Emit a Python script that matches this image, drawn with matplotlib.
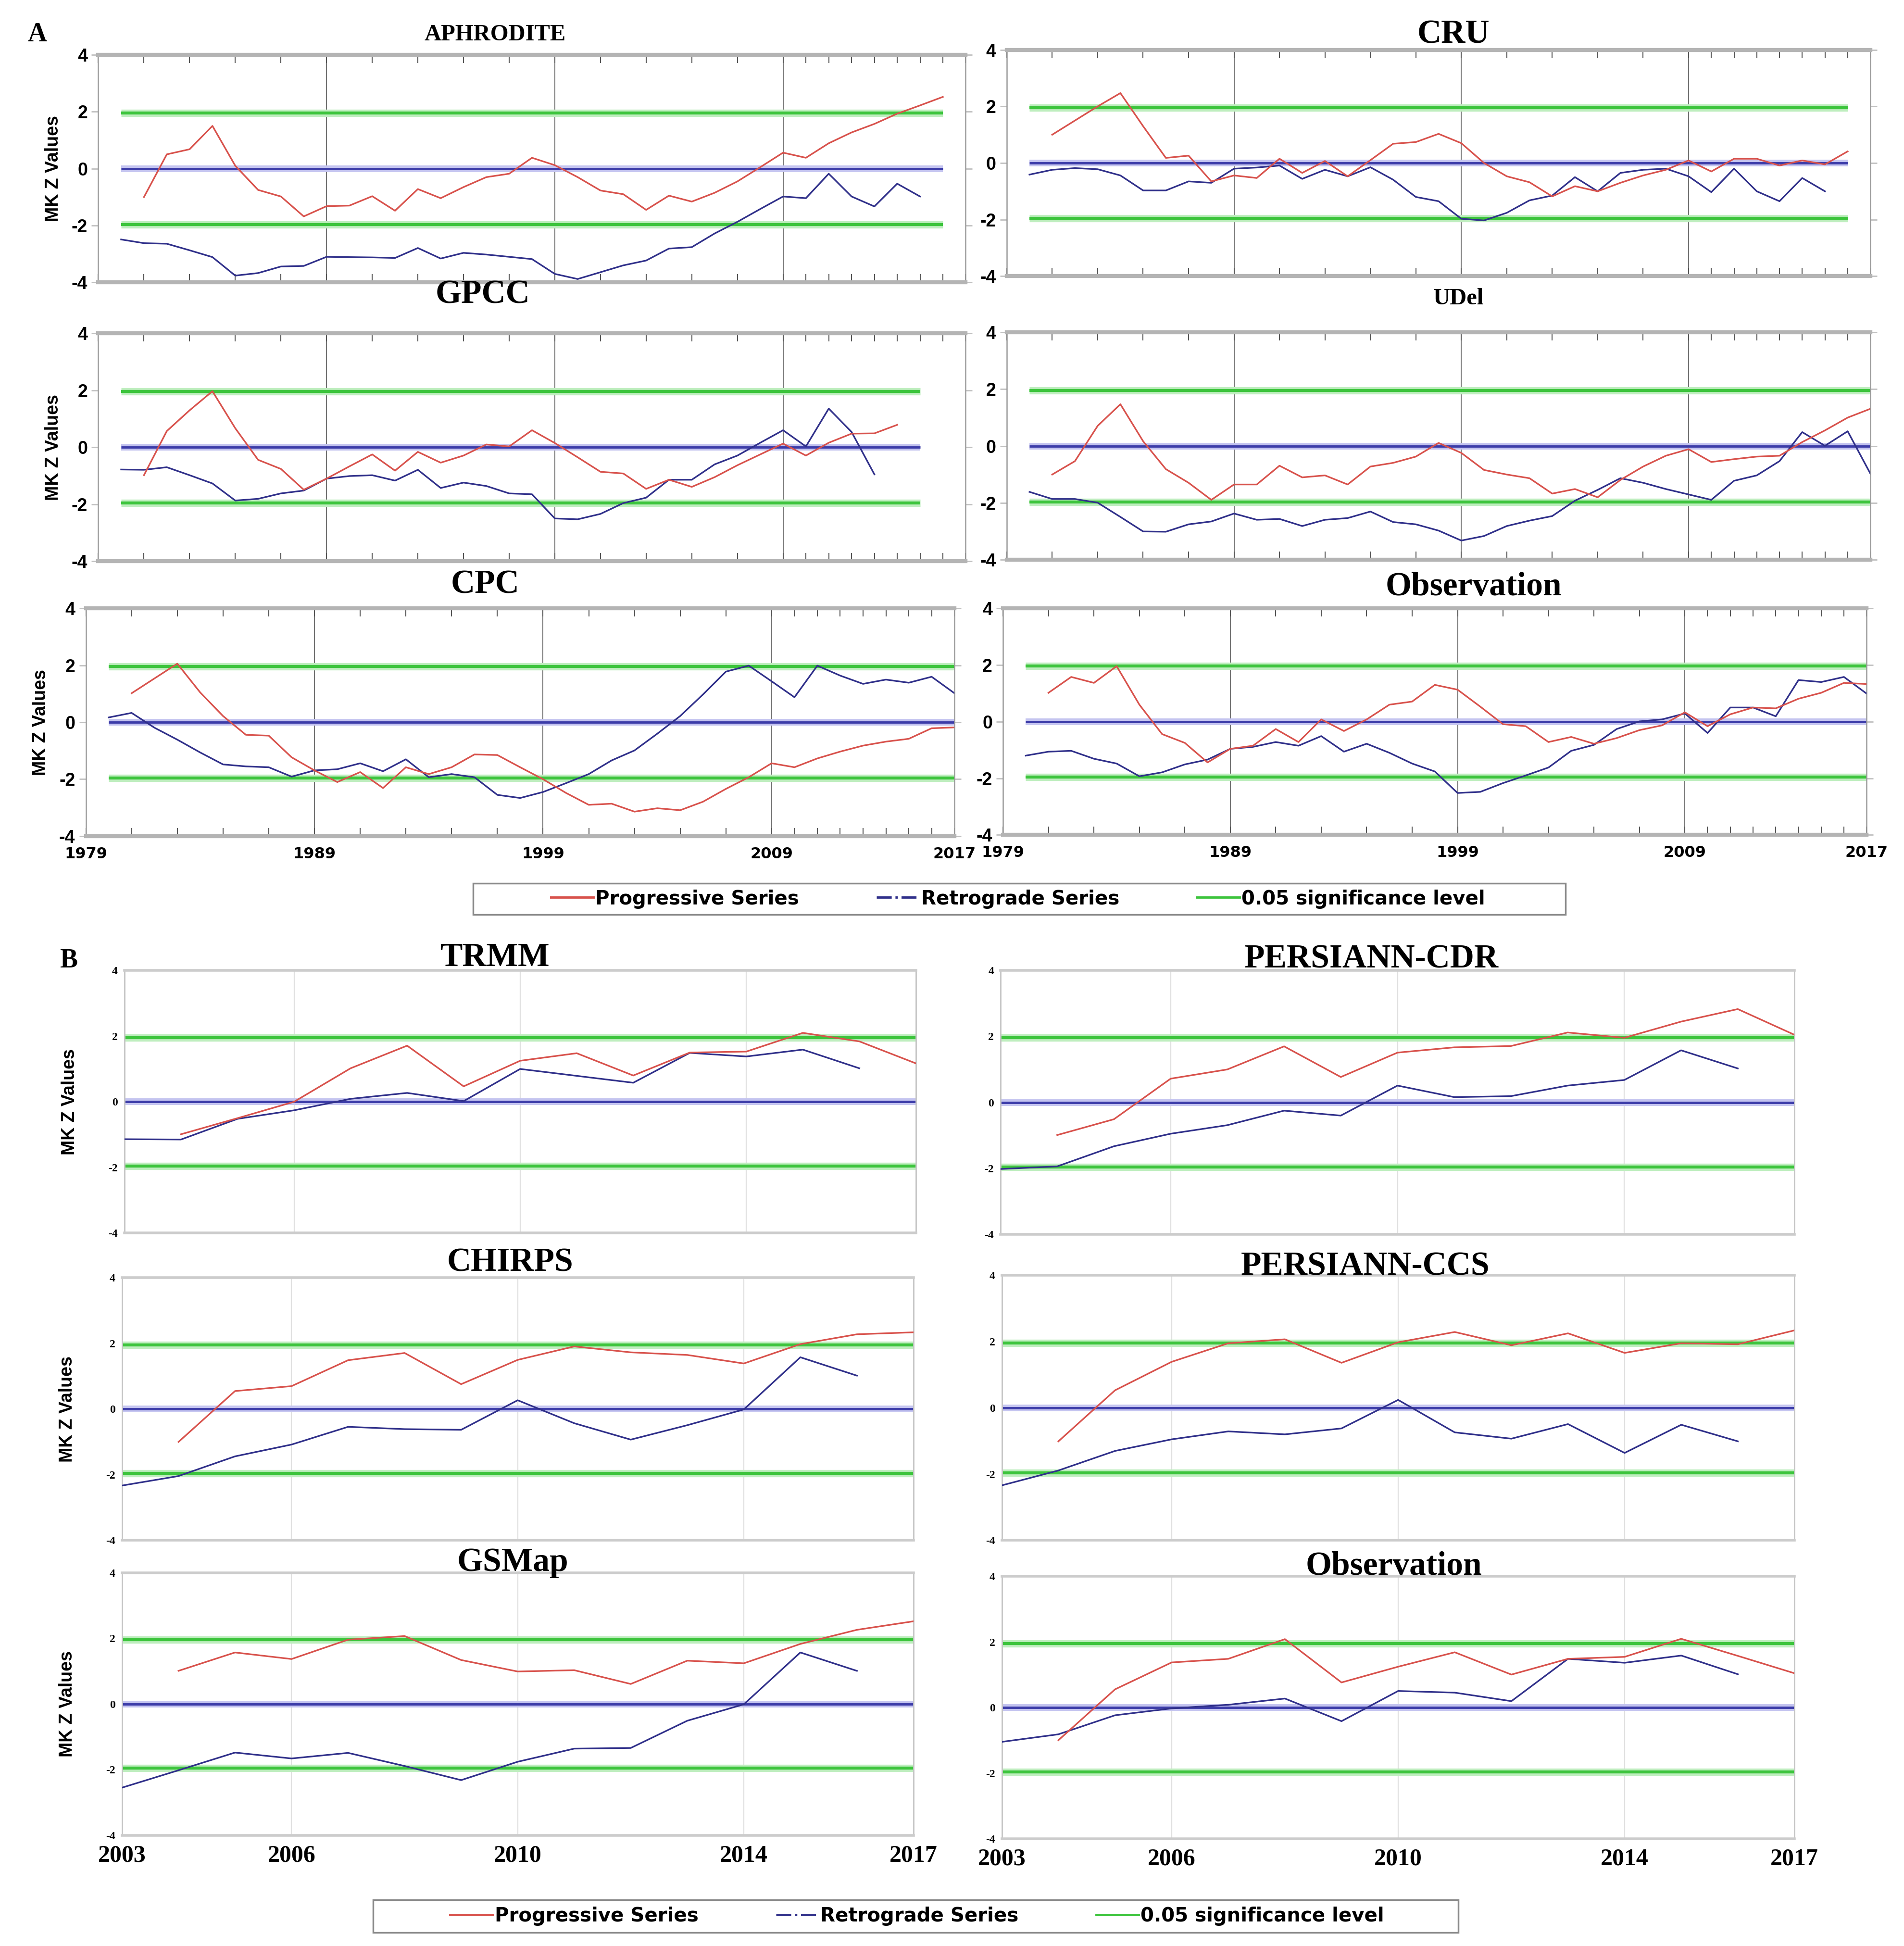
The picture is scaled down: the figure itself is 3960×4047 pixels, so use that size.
import numpy as np
import matplotlib.pyplot as plt
from matplotlib.lines import Line2D
from matplotlib.patches import Rectangle

# layout was measured on a 1530 px wide view of the figure
W, H = 1530.0, 1564.0

# ---------------- data: Mann-Kendall Z values ----------------
# Part A (1979-2017)
aphro_prog_start, aphro_retro_start = 1981, 1980
aphro_prog = [-1.0, 0.5, 0.68, 1.5, 0.1, -0.75, -0.98, -1.68, -1.32, -1.3, -0.97, -1.48,
              -0.72, -1.04, -0.65, -0.3, -0.18, 0.38, 0.12, -0.3, -0.77, -0.9, -1.45, -0.95,
              -1.16, -0.85, -0.45, 0.05, 0.56, 0.38, 0.89, 1.27, 1.57, 1.93, 2.22, 2.52]
aphro_retro = [-2.49, -2.62, -2.64, -2.87, -3.11, -3.76, -3.67, -3.44, -3.42, -3.1, -3.11,
               -3.12, -3.14, -2.79, -3.16, -2.96, -3.02, -3.1, -3.18, -3.7, -3.88, -3.64,
               -3.4, -3.23, -2.81, -2.76, -2.28, -1.87, -1.42, -0.98, -1.04, -0.18, -0.98,
               -1.33, -0.53, -0.98]

cru_prog_start, cru_retro_start = 1981, 1980
cru_prog = [1.0, 1.5, 2.0, 2.47, 1.3, 0.18, 0.26, -0.65, -0.44, -0.53, 0.15, -0.35, 0.07,
            -0.47, 0.1, 0.68, 0.74, 1.03, 0.7, 0.0, -0.47, -0.68, -1.18, -0.82, -1.0, -0.7,
            -0.44, -0.24, 0.09, -0.3, 0.15, 0.15, -0.09, 0.09, -0.05, 0.41]
cru_retro = [-0.41, -0.24, -0.18, -0.22, -0.44, -0.97, -0.97, -0.65, -0.7, -0.2, -0.16,
             -0.09, -0.56, -0.24, -0.47, -0.15, -0.59, -1.2, -1.35, -1.97, -2.03, -1.76,
             -1.32, -1.15, -0.5, -1.0, -0.35, -0.24, -0.2, -0.47, -1.03, -0.2, -1.0, -1.35,
             -0.53, -1.0]

gpcc_prog_start, gpcc_retro_start = 1981, 1980
gpcc_prog = [-0.98, 0.57, 1.3, 1.97, 0.67, -0.44, -0.76, -1.49, -1.1, -0.67, -0.25, -0.82,
             -0.16, -0.54, -0.29, 0.1, 0.03, 0.6, 0.15, -0.35, -0.86, -0.92, -1.46, -1.14,
             -1.39, -1.05, -0.63, -0.25, 0.13, -0.29, 0.16, 0.48, 0.49, 0.79]
gpcc_retro = [-0.78, -0.79, -0.7, -0.98, -1.27, -1.87, -1.81, -1.62, -1.52, -1.1, -1.01,
              -0.98, -1.17, -0.79, -1.43, -1.24, -1.36, -1.62, -1.65, -2.5, -2.53, -2.34,
              -1.96, -1.77, -1.14, -1.14, -0.6, -0.29, 0.16, 0.6, 0.03, 1.36, 0.54, -0.95]

udel_prog_start, udel_retro_start = 1981, 1980
udel_prog = [-1.0, -0.53, 0.71, 1.47, 0.17, -0.81, -1.29, -1.89, -1.35, -1.35, -0.69, -1.1,
             -1.03, -1.35, -0.72, -0.59, -0.37, 0.11, -0.24, -0.84, -1.0, -1.13, -1.67, -1.51,
             -1.8, -1.19, -0.72, -0.34, -0.11, -0.56, -0.46, -0.37, -0.34, 0.14, 0.55, 1.0, 1.31]
udel_retro = [-1.61, -1.86, -1.86, -1.99, -2.49, -3.0, -3.01, -2.75, -2.65, -2.37, -2.59,
              -2.56, -2.81, -2.59, -2.53, -2.3, -2.67, -2.75, -2.97, -3.32, -3.16, -2.81,
              -2.62, -2.46, -1.92, -1.54, -1.13, -1.29, -1.51, -1.7, -1.89, -1.22, -1.03,
              -0.53, 0.49, 0.01, 0.52, -0.97]

cpc_prog_start, cpc_retro_start = 1981, 1980
cpc_prog = [1.02, 1.54, 2.06, 1.05, 0.22, -0.44, -0.47, -1.23, -1.69, -2.1, -1.75, -2.31,
            -1.58, -1.82, -1.58, -1.13, -1.15, -1.58, -2.0, -2.48, -2.9, -2.86, -3.14, -3.02,
            -3.09, -2.79, -2.34, -1.93, -1.44, -1.58, -1.27, -1.03, -0.82, -0.68, -0.58,
            -0.21, -0.18]
cpc_retro = [0.17, 0.33, -0.19, -0.61, -1.06, -1.48, -1.55, -1.58, -1.91, -1.69, -1.65,
             -1.44, -1.72, -1.3, -1.93, -1.82, -1.93, -2.55, -2.66, -2.45, -2.14, -1.82,
             -1.34, -0.99, -0.4, 0.22, 0.98, 1.78, 1.99, 1.44, 0.88, 1.99, 1.64, 1.35, 1.5,
             1.39, 1.6, 1.02]

obsa_prog_start, obsa_retro_start = 1981, 1980
obsa_prog = [1.02, 1.58, 1.37, 1.96, 0.6, -0.44, -0.75, -1.44, -0.96, -0.85, -0.26, -0.72,
             0.08, -0.33, 0.08, 0.6, 0.71, 1.3, 1.13, 0.53, -0.09, -0.16, -0.72, -0.54, -0.78,
             -0.58, -0.3, -0.13, 0.33, -0.16, 0.26, 0.5, 0.47, 0.81, 1.02, 1.37, 1.33]
obsa_retro = [-1.2, -1.06, -1.03, -1.31, -1.48, -1.93, -1.79, -1.51, -1.34, -0.96, -0.89,
              -0.72, -0.85, -0.51, -1.06, -0.78, -1.1, -1.48, -1.76, -2.52, -2.48, -2.17,
              -1.9, -1.62, -1.03, -0.82, -0.26, 0.01, 0.08, 0.29, -0.4, 0.5, 0.5, 0.19, 1.47,
              1.4, 1.58, 0.99]

# Part B (2003-2017)
b_prog_start, b_retro_start = 2004, 2003
trmm_prog = [-0.99, -0.5, 0.0, 1.02, 1.71, 0.47, 1.25, 1.48, 0.8, 1.5, 1.53, 2.1, 1.84, 1.17]
trmm_retro = [-1.14, -1.15, -0.52, -0.26, 0.09, 0.27, 0.02, 1.0, 0.79, 0.58, 1.49, 1.38, 1.59, 1.02]
cdr_prog = [-0.99, -0.51, 0.72, 1.0, 1.7, 0.77, 1.51, 1.67, 1.71, 2.12, 1.96, 2.45, 2.83, 2.05]
cdr_retro = [-2.02, -1.94, -1.33, -0.95, -0.69, -0.25, -0.4, 0.51, 0.16, 0.19, 0.51, 0.68, 1.58, 1.03]
chirps_prog = [-1.0, 0.55, 0.7, 1.49, 1.71, 0.76, 1.5, 1.91, 1.73, 1.65, 1.39, 1.98, 2.28, 2.34]
chirps_retro = [-2.33, -2.04, -1.44, -1.08, -0.54, -0.61, -0.63, 0.27, -0.43, -0.93, -0.49, -0.01, 1.58, 1.02]
ccs_prog = [-1.01, 0.53, 1.39, 1.95, 2.07, 1.36, 1.98, 2.29, 1.89, 2.25, 1.66, 1.95, 1.92, 2.34]
ccs_retro = [-2.34, -1.89, -1.3, -0.95, -0.71, -0.8, -0.62, 0.24, -0.74, -0.93, -0.49, -1.36, -0.51, -1.01]
gsmap_prog = [1.01, 1.57, 1.37, 1.96, 2.07, 1.34, 0.99, 1.03, 0.61, 1.32, 1.24, 1.83, 2.26, 2.52]
gsmap_retro = [-2.55, -2.02, -1.48, -1.66, -1.49, -1.89, -2.32, -1.76, -1.36, -1.34, -0.51, -0.01, 1.57, 1.01]
obsb_prog = [-0.99, 0.56, 1.38, 1.49, 2.09, 0.77, 1.25, 1.69, 1.01, 1.49, 1.55, 2.1, 1.58, 1.05]
obsb_retro = [-1.04, -0.81, -0.23, -0.02, 0.09, 0.28, -0.41, 0.51, 0.46, 0.2, 1.49, 1.37, 1.59, 1.02]

# axis ticks / labels
sig_levels = [-1.96, 1.96]
y_ticks = [-4, -2, 0, 2, 4]
a_year_labels = [1979, 1989, 1999, 2009, 2017]
a_grid_years = [1989, 1999, 2009]
a_minor_years = list(range(1979, 2010, 2)) + list(range(2010, 2018))
b_year_labels = [2003, 2006, 2010, 2014, 2017]
b_grid_years = [2006, 2010, 2014]

RED = '#d8524c'
BLUE = '#30308a'
ZERO = '#3c3ca8'
GREEN = '#3cc43c'
SERIF = 'Liberation Serif'
SANS = 'Liberation Sans'
WIDE = 'DejaVu Sans'

# axes boxes (left, top, right, bottom), title centre and title size
panels = [
    ('APHRODITE', aphro_prog_start, aphro_prog, aphro_retro_start, aphro_retro, (1980, 2016),
     'A', (79, 44, 776, 227), (398, 28), 35, False, True),
    ('CRU', cru_prog_start, cru_prog, cru_retro_start, cru_retro, (1980, 2016),
     'A', (809, 40, 1503, 222), (1168, 28), 50, False, False),
    ('GPCC', gpcc_prog_start, gpcc_prog, gpcc_retro_start, gpcc_retro, (1980, 2015),
     'A', (79, 268, 776, 451), (388, 237), 50, False, True),
    ('UDel', udel_prog_start, udel_prog, udel_retro_start, udel_retro, (1980, 2017),
     'A', (809, 267, 1503, 450), (1172, 240), 35, False, False),
    ('CPC', cpc_prog_start, cpc_prog, cpc_retro_start, cpc_retro, (1980, 2017),
     'A', (69, 489, 767, 672), (390, 470), 50, True, True),
    ('Observation', obsa_prog_start, obsa_prog, obsa_retro_start, obsa_retro, (1980, 2017),
     'A', (806, 489, 1500, 671), (1184, 472), 50, True, False),
    ('TRMM', b_prog_start, trmm_prog, b_retro_start, trmm_retro, (2003, 2017),
     'B', (100, 780, 736, 991), (398, 770), 50, False, True),
    ('PERSIANN-CDR', b_prog_start, cdr_prog, b_retro_start, cdr_retro, (2003, 2017),
     'B', (804, 780, 1442, 992), (1102, 771), 50, False, False),
    ('CHIRPS', b_prog_start, chirps_prog, b_retro_start, chirps_retro, (2003, 2017),
     'B', (98, 1027, 734, 1238), (410, 1015), 50, False, True),
    ('PERSIANN-CCS', b_prog_start, ccs_prog, b_retro_start, ccs_retro, (2003, 2017),
     'B', (805, 1025, 1442, 1238), (1097, 1018), 50, False, False),
    ('GSMap', b_prog_start, gsmap_prog, b_retro_start, gsmap_retro, (2003, 2017),
     'B', (98, 1264, 734, 1475), (412, 1256), 50, True, True),
    ('Observation', b_prog_start, obsb_prog, b_retro_start, obsb_retro, (2003, 2017),
     'B', (805, 1267, 1442, 1478), (1120, 1259), 50, True, False),
]

fig = plt.figure(figsize=(39.6, 40.47), dpi=100)
fig.patch.set_facecolor('white')

for (title, pstart, prog, rstart, retro, span, part, box, tpos, tsize,
     show_years, show_ylabel) in panels:
    l, t, r, b = box
    ax = fig.add_axes([l / W, 1 - b / H, (r - l) / W, (b - t) / H])

    # reference lines: significance levels (green) and zero (blue)
    for lvl in sig_levels:
        ax.plot(span, [lvl, lvl], color='#bfeebf', lw=11, solid_capstyle='butt', zorder=1)
        ax.plot(span, [lvl, lvl], color=GREEN, lw=4.5, solid_capstyle='butt', zorder=2)
    ax.plot(span, [0, 0], color='#c4c4f0', lw=10, solid_capstyle='butt', zorder=1)
    ax.plot(span, [0, 0], color=ZERO, lw=3.5, solid_capstyle='butt', zorder=2)

    px = np.arange(pstart, pstart + len(prog))
    rx = np.arange(rstart, rstart + len(retro))
    ax.plot(rx, retro, color=BLUE, lw=2.4, zorder=4)
    ax.plot(px, prog, color=RED, lw=2.4, zorder=5)

    ax.set_ylim(-4, 4)
    ax.set_yticks(y_ticks)
    ax.set_yticklabels([str(v) for v in y_ticks])

    if part == 'A':
        ax.set_xlim(1979, 2017)
        for yr in a_grid_years:
            ax.axvline(yr, color='#707070', lw=1.4, zorder=0)
        ax.set_xticks(a_year_labels)
        ax.set_xticks(a_minor_years, minor=True)
        ax.tick_params(axis='x', which='both', direction='in', top=True, bottom=True,
                       length=12, width=1.5, color='#555555')
        ax.tick_params(axis='y', direction='out', left=True, right=True, length=10,
                       width=2, color='#c0c0c0', labelsize=27, pad=6)
        for lab in ax.get_yticklabels():
            lab.set_fontweight('bold')
            lab.set_family(SANS)
        if show_years:
            ax.set_xticklabels([str(y) for y in a_year_labels])
            ax.tick_params(axis='x', labelsize=23, pad=16)
            for lab in ax.get_xticklabels():
                lab.set_fontweight('bold')
                lab.set_family(WIDE)
        else:
            ax.set_xticklabels([])
        for side in ['top', 'bottom']:
            ax.spines[side].set_color('#b4b4b4')
            ax.spines[side].set_linewidth(6)
        for side in ['left', 'right']:
            ax.spines[side].set_color('#9a9a9a')
            ax.spines[side].set_linewidth(1.8)
        ylab_x = -0.042
    else:
        ax.set_xlim(2003, 2017)
        for yr in b_grid_years:
            ax.axvline(yr, color='#e0e0e0', lw=1.6, zorder=0)
        ax.set_xticks(b_year_labels)
        ax.tick_params(axis='both', length=0)
        ax.tick_params(axis='y', labelsize=17, pad=10)
        for lab in ax.get_yticklabels():
            lab.set_fontweight('bold')
            lab.set_family(SERIF)
        if show_years:
            ax.set_xticklabels([str(y) for y in b_year_labels])
            ax.tick_params(axis='x', labelsize=36, pad=14)
            for lab in ax.get_xticklabels():
                lab.set_fontweight('bold')
                lab.set_family(SERIF)
        else:
            ax.set_xticklabels([])
        for side in ['top', 'bottom']:
            ax.spines[side].set_color('#cccccc')
            ax.spines[side].set_linewidth(4)
        for side in ['left', 'right']:
            ax.spines[side].set_color('#c4c4c4')
            ax.spines[side].set_linewidth(2)
        ylab_x = -0.058

    if show_ylabel:
        ax.set_ylabel('MK Z Values', fontsize=27, fontweight='bold', family=SANS)
        ax.yaxis.set_label_coords(ylab_x, 0.5)

    fig.text(tpos[0] / W, 1 - tpos[1] / H, title, ha='center', va='center',
             fontsize=tsize, fontweight='bold', family=SERIF)

# part letters
fig.text(30 / W, 1 - 28 / H, 'A', ha='center', va='center', fontsize=40,
         fontweight='bold', family=SERIF)
fig.text(55 / W, 1 - 772 / H, 'B', ha='center', va='center', fontsize=40,
         fontweight='bold', family=SERIF)

# legends: framed box drawn separately, entries centred inside
handles = [Line2D([], [], color=RED, lw=3.5),
           Line2D([], [], color=BLUE, lw=3.5, ls='-.'),
           Line2D([], [], color=GREEN, lw=3.5)]
names = ['Progressive Series', 'Retrograde Series', '0.05 significance level']
legend_boxes = [((380, 710, 1258, 735), 818), ((300, 1527, 1172, 1553), 737)]
for (l, t, r, b), cx in legend_boxes:
    fig.patches.append(Rectangle((l / W, 1 - b / H), (r - l) / W, (b - t) / H,
                                 transform=fig.transFigure, fill=False,
                                 edgecolor='#8a8a8a', lw=2.5))
    fig.legend(handles, names, loc='center', bbox_to_anchor=(cx / W, 1 - (t + b) / 2 / H),
               ncol=3, frameon=False, handlelength=2.2, columnspacing=4.0,
               handletextpad=0.1, borderpad=0.2,
               prop={'family': WIDE, 'weight': 'bold', 'size': 29})

fig.savefig('out.png', dpi=100, facecolor='white')
